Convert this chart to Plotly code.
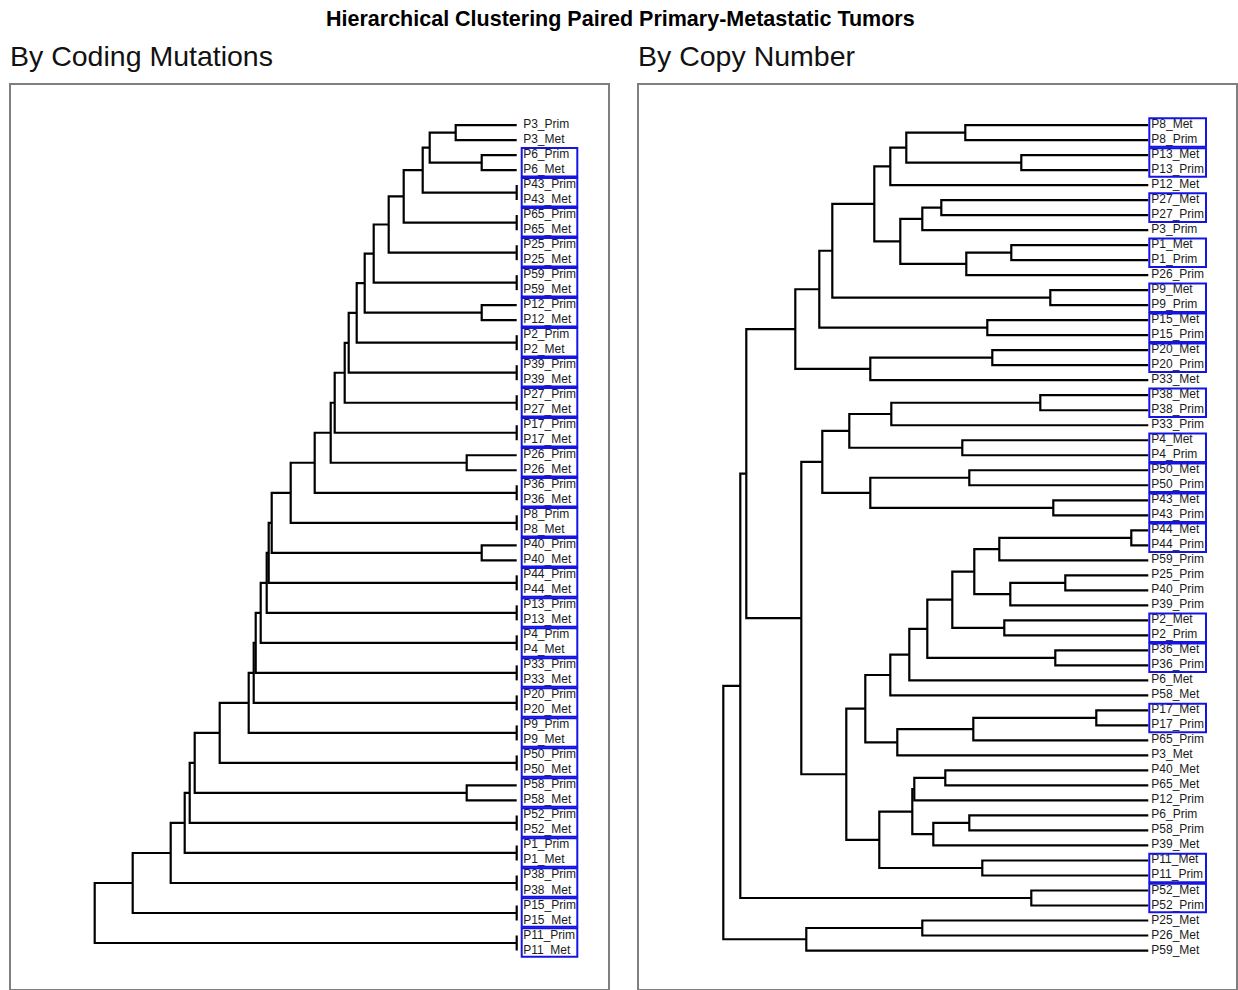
import plotly.graph_objects as go

# ---------------- Data ----------------
TITLE = "Hierarchical Clustering Paired Primary-Metastatic Tumors"
SUBTITLES = ["By Coding Mutations", "By Copy Number"]

# Left dendrogram (coding mutations): pairs joined one after another, top to bottom
left_pairs = ["P3", "P6", "P43", "P65", "P25", "P59", "P12", "P2", "P39", "P27",
              "P17", "P26", "P36", "P8", "P40", "P44", "P13", "P4", "P33", "P20",
              "P9", "P50", "P58", "P52", "P1", "P38", "P15", "P11"]
left_pair_heights = [0.61, 0.35, 0, 0, 0, 0, 0.35, 0, 0, 0,
                     0, 0.50, 0, 0, 0.35, 0, 0, 0, 0, 0,
                     0, 0, 0.50, 0, 0, 0, 0, 0]
left_join_heights = [0.87, 0.94, 1.13, 1.28, 1.43, 1.52, 1.60, 1.68, 1.72, 1.82,
                     1.86, 2.02, 2.26, 2.45, 2.48, 2.50, 2.56, 2.61, 2.63, 2.68,
                     2.97, 3.22, 3.27, 3.32, 3.46, 3.84, 4.22]
left_boxed = left_pairs[1:]

# Right dendrogram (copy number): nested [height, upper child, lower child]
right_tree = [4.25,
  [4.08,
    [4.02,
      [3.53,
        [3.29,
          [3.16,
            [2.74,
              [2.58, [2.42, [1.83, "P8_Met", "P8_Prim"], [1.27, "P13_Met", "P13_Prim"]], "P12_Met"],
              [2.48, [2.26, [2.07, "P27_Met", "P27_Prim"], "P3_Prim"],
                     [1.82, [1.37, "P1_Met", "P1_Prim"], "P26_Prim"]]],
            [0.98, "P9_Met", "P9_Prim"]],
          [1.61, "P15_Met", "P15_Prim"]],
        [2.78, [1.56, "P20_Met", "P20_Prim"], "P33_Met"]],
      [3.47,
        [3.26,
          [2.99, [2.57, [1.08, "P38_Met", "P38_Prim"], "P33_Prim"], [1.86, "P4_Met", "P4_Prim"]],
          [2.78, [1.79, "P50_Met", "P50_Prim"], [0.95, "P43_Met", "P43_Prim"]]],
        [3.02,
          [2.83,
            [2.58,
              [2.39,
                [2.21,
                  [1.96,
                    [1.74, [1.49, [0.17, "P44_Met", "P44_Prim"], "P59_Prim"],
                           [1.38, [0.83, "P25_Prim", "P40_Prim"], "P39_Prim"]],
                    [1.44, "P2_Met", "P2_Prim"]],
                  [0.93, "P36_Met", "P36_Prim"]],
                "P6_Met"],
              "P58_Met"],
            [2.51, [1.75, [0.52, "P17_Met", "P17_Prim"], "P65_Prim"], "P3_Met"]],
          [2.69,
            [2.36, [2.34, [2.03, "P40_Met", "P65_Met"], "P12_Prim"],
                   [2.15, [1.79, "P6_Prim", "P58_Prim"], "P39_Met"]],
            [1.66, "P11_Met", "P11_Prim"]]]]],
    [1.17, "P52_Met", "P52_Prim"]],
  [3.42, [2.26, "P25_Met", "P26_Met"], "P59_Met"]]
right_boxed = ["P8", "P13", "P27", "P1", "P9", "P15", "P20", "P38", "P4", "P50",
               "P43", "P44", "P2", "P36", "P17", "P11", "P52"]

# ---------------- Build left tree ----------------
def build_left():
    tree = None
    for i, p in enumerate(left_pairs):
        pair = [left_pair_heights[i], p + "_Prim", p + "_Met"]
        tree = pair if tree is None else [left_join_heights[i - 1], tree, pair]
    return tree

left_tree = build_left()

# ---------------- Layout helpers ----------------
def dendro(tree):
    leaves, xs, ys = [], [], []

    def walk(node):
        if isinstance(node, str):
            leaves.append(node)
            return 0.0, float(len(leaves) - 1)
        h, a, b = node
        ha, ya = walk(a)
        hb, yb = walk(b)
        xs.extend([ha, h, h, hb, None])
        ys.extend([ya, ya, yb, yb, None])
        return h, (ya + yb) / 2

    walk(tree)
    return leaves, xs, ys

FONT = "Liberation Sans, Arial, Helvetica, sans-serif"
fig = go.Figure()

panels = [
    dict(tree=left_tree, boxed=left_boxed, xa="x", ya="y",
         rng=[5.062, -0.913], dom=[10.5 / 1238, 608 / 1238],
         lab=-0.065, bx=[-0.05, -0.606], by=[-0.48, 0.42]),
    dict(tree=right_tree, boxed=right_boxed, xa="x2", ya="y2",
         rng=[5.093, -0.877], dom=[639 / 1238, 1236 / 1238],
         lab=-0.03, bx=[-0.01, -0.577], by=[-0.45, 0.45]),
]

shapes = []
for k, pnl in enumerate(panels):
    leaves, xs, ys = dendro(pnl["tree"])
    fig.add_trace(go.Scatter(x=xs, y=ys, mode="lines",
                             line=dict(color="black", width=2.2),
                             hoverinfo="skip", showlegend=False,
                             xaxis=pnl["xa"], yaxis=pnl["ya"]))
    fig.add_trace(go.Scatter(x=[pnl["lab"]] * len(leaves), y=list(range(len(leaves))),
                             mode="text", text=leaves, textposition="middle right",
                             textfont=dict(family=FONT, size=12, color="#1a1a1a"),
                             hoverinfo="skip", showlegend=False,
                             xaxis=pnl["xa"], yaxis=pnl["ya"]))
    for p in pnl["boxed"]:
        idx = [i for i, n in enumerate(leaves) if n.split("_")[0] == p]
        shapes.append(dict(type="rect", xref=pnl["xa"], yref=pnl["ya"],
                           x0=pnl["bx"][0], x1=pnl["bx"][1],
                           y0=min(idx) + pnl["by"][0], y1=max(idx) + pnl["by"][1],
                           line=dict(color="#1414e6", width=2),
                           fillcolor="rgba(0,0,0,0)"))

axis_common = dict(showgrid=False, zeroline=False, showticklabels=False, ticks="",
                   showline=True, mirror=True, linecolor="#7f7f7f", linewidth=1.5)
ydom = [1 - 988.5 / 990, 1 - 85 / 990]
yrng = [57.53, -2.67]

fig.update_layout(
    width=1238, height=990,
    margin=dict(l=0, r=0, t=0, b=0),
    paper_bgcolor="white", plot_bgcolor="white",
    showlegend=False,
    xaxis=dict(domain=panels[0]["dom"], range=panels[0]["rng"], anchor="y", **axis_common),
    yaxis=dict(domain=ydom, range=yrng, anchor="x", **axis_common),
    xaxis2=dict(domain=panels[1]["dom"], range=panels[1]["rng"], anchor="y2", **axis_common),
    yaxis2=dict(domain=ydom, range=yrng, anchor="x2", **axis_common),
    shapes=shapes,
    annotations=[
        dict(text="<b>" + TITLE + "</b>", x=620 / 1238, y=1 - 19 / 990,
             xref="paper", yref="paper", xanchor="center", yanchor="middle",
             showarrow=False, font=dict(family=FONT, size=21.5, color="black")),
        dict(text=SUBTITLES[0], x=8 / 1238, y=1 - 56 / 990,
             xref="paper", yref="paper", xanchor="left", yanchor="middle",
             showarrow=False, font=dict(family=FONT, size=28.5, color="#111111")),
        dict(text=SUBTITLES[1], x=636 / 1238, y=1 - 56 / 990,
             xref="paper", yref="paper", xanchor="left", yanchor="middle",
             showarrow=False, font=dict(family=FONT, size=28.5, color="#111111")),
    ],
)

fig.write_html("out.html")
